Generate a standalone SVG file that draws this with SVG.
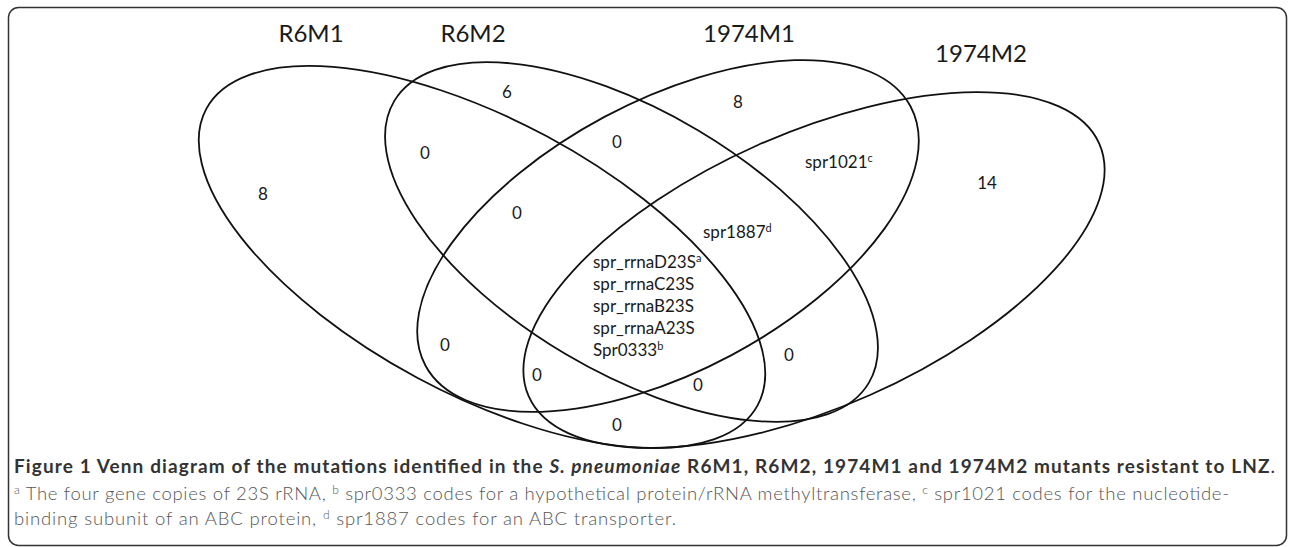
<svg xmlns="http://www.w3.org/2000/svg" width="1290" height="547" viewBox="0 0 1290 547">
<style>
.ell{fill:none;stroke:#111;stroke-width:1.8}
.title{font-family:Lato,"Liberation Sans",sans-serif;font-size:24px;fill:#1a1a1a;text-anchor:middle}
.num{font-family:Lato,"Liberation Sans",sans-serif;font-size:17px;fill:#1a1a1a;text-anchor:middle}
.gene{font-family:Lato,"Liberation Sans",sans-serif;font-size:17px;fill:#1a1a1a}
.sup{font-size:11px}
.cap{font-family:Lato,"Liberation Sans",sans-serif;font-size:19px;font-weight:bold;fill:#333}
.foot{font-family:Lato,"Liberation Sans",sans-serif;font-size:18.5px;font-weight:300;fill:#555}
.foot .sup{font-size:12px}
</style>
<rect x="8.5" y="7.5" width="1278" height="538" rx="10" fill="#fff" stroke="#333" stroke-width="1.5"/>
<g id="connectors"></g>
<g id="R6M1">
<ellipse class="ell" cx="482" cy="257" rx="313" ry="137" transform="rotate(28.25 482 257)"/>
<text class="title" x="311" y="42">R6M1</text>
</g>
<g id="R6M2">
<ellipse class="ell" cx="631.5" cy="242" rx="276" ry="130" transform="rotate(30.7 631.5 242)"/>
<text class="title" x="473" y="42">R6M2</text>
</g>
<g id="1974M1">
<ellipse class="ell" cx="668" cy="236" rx="275" ry="135" transform="rotate(-28.1 668 236)"/>
<text class="title" x="749" y="42">1974M1</text>
</g>
<g id="1974M2">
<ellipse class="ell" cx="814" cy="270" rx="312" ry="137" transform="rotate(-23.9 814 270)"/>
<text class="title" x="981" y="62">1974M2</text>
</g>
<g id="region-labels">
<text class="num" x="263" y="200">8</text>
<text class="num" x="425" y="159">0</text>
<text class="num" x="507" y="98">6</text>
<text class="num" x="738" y="108">8</text>
<text class="num" x="617" y="148">0</text>
<text class="num" x="517" y="219">0</text>
<text class="num" x="987" y="189">14</text>
<text class="num" x="445" y="351">0</text>
<text class="num" x="537" y="381">0</text>
<text class="num" x="698" y="391">0</text>
<text class="num" x="789" y="361">0</text>
<text class="num" x="617" y="431">0</text>
<text class="gene" x="805" y="168">spr1021<tspan class="sup" dy="-6">c</tspan></text>
<text class="gene" x="703" y="238">spr1887<tspan class="sup" dy="-6">d</tspan></text>
<text class="gene" x="593" y="268">spr_rrnaD23S<tspan class="sup" dy="-6">a</tspan></text>
<text class="gene" x="593" y="290">spr_rrnaC23S</text>
<text class="gene" x="593" y="312">spr_rrnaB23S</text>
<text class="gene" x="593" y="334">spr_rrnaA23S</text>
<text class="gene" x="593" y="356">Spr0333<tspan class="sup" dy="-6">b</tspan></text>
</g>
<g id="caption">
<text class="cap" x="14" y="473" textLength="1261" lengthAdjust="spacing">Figure 1 Venn diagram of the mutations identified in the <tspan font-style="italic">S. pneumoniae</tspan> R6M1, R6M2, 1974M1 and 1974M2 mutants resistant to LNZ<tspan font-weight="normal">.</tspan></text>
<text class="foot" x="14" y="500" textLength="1215" lengthAdjust="spacing"><tspan class="sup" dy="-6">a</tspan><tspan dy="6"> The four gene copies of 23S rRNA, </tspan><tspan class="sup" dy="-6">b</tspan><tspan dy="6"> spr0333 codes for a hypothetical protein/rRNA methyltransferase, </tspan><tspan class="sup" dy="-6">c</tspan><tspan dy="6"> spr1021 codes for the nucleotide-</tspan></text>
<text class="foot" x="14" y="525" textLength="662" lengthAdjust="spacing">binding subunit of an ABC protein, <tspan class="sup" dy="-6">d</tspan><tspan dy="6"> spr1887 codes for an ABC transporter.</tspan></text>
</g>
</svg>
